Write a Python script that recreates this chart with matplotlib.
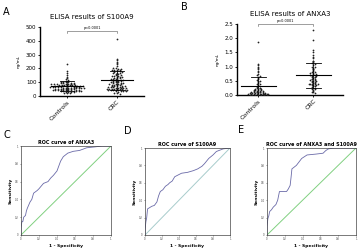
import numpy as np
import matplotlib.pyplot as plt

# ELISA values
s100a9_controls = [235, 180, 170, 150, 140, 130, 125, 118, 112, 110, 105, 102, 100, 98, 96,
                   95, 93, 92, 90, 90, 88, 87, 85, 85, 84, 83, 82, 80, 80, 79, 78, 77, 76,
                   75, 75, 74, 73, 72, 71, 70, 70, 69, 68, 67, 66, 65, 65, 64, 63, 62, 61,
                   60, 60, 59, 58, 57, 56, 55, 55, 54, 53, 52, 51, 50, 50, 49, 48, 47, 46,
                   45, 45, 44, 43, 42, 41, 40, 40, 38, 37, 36, 35, 34, 33, 32, 30, 28, 26,
                   24, 22, 20]
s100a9_crc = [415, 270, 260, 250, 240, 230, 215, 205, 200, 198, 195, 192, 190, 188, 185,
              182, 180, 178, 175, 172, 170, 168, 165, 160, 158, 155, 150, 148, 145, 142,
              140, 138, 135, 132, 130, 128, 125, 122, 120, 118, 116, 115, 112, 110, 108,
              106, 105, 103, 100, 98, 96, 95, 93, 90, 88, 87, 85, 83, 82, 80, 78, 76, 75,
              73, 72, 70, 68, 67, 65, 63, 62, 60, 58, 57, 56, 55, 54, 53, 52, 51, 50, 49,
              48, 47, 46, 45, 44, 43, 42, 40, 38, 36, 35, 33, 30, 25, 20, 15]
anxa3_controls = [1.85, 1.1, 1.05, 1.0, 0.95, 0.9, 0.85, 0.8, 0.75, 0.7, 0.68, 0.65, 0.6,
                  0.55, 0.52, 0.5, 0.48, 0.45, 0.42, 0.4, 0.38, 0.35, 0.33, 0.3, 0.28, 0.26,
                  0.25, 0.24, 0.22, 0.2, 0.2, 0.19, 0.18, 0.17, 0.16, 0.15, 0.15, 0.14, 0.13,
                  0.12, 0.12, 0.11, 0.1, 0.1, 0.09, 0.09, 0.08, 0.08, 0.07, 0.07, 0.06, 0.06,
                  0.05, 0.05, 0.05, 0.04, 0.04, 0.03, 0.03, 0.03, 0.02, 0.02, 0.02, 0.01,
                  0.01, 0.01, 0.0, 0.0, 0.0, 0.0]
anxa3_crc = [2.28, 1.95, 1.6, 1.5, 1.4, 1.35, 1.3, 1.2, 1.18, 1.15, 1.12, 1.1, 1.05, 1.0,
             0.98, 0.95, 0.92, 0.9, 0.88, 0.85, 0.82, 0.8, 0.78, 0.76, 0.75, 0.74, 0.72, 0.7,
             0.7, 0.68, 0.66, 0.65, 0.64, 0.62, 0.6, 0.58, 0.57, 0.55, 0.54, 0.52, 0.5, 0.5,
             0.48, 0.47, 0.45, 0.44, 0.42, 0.4, 0.4, 0.39, 0.38, 0.37, 0.36, 0.35, 0.34,
             0.32, 0.3, 0.28, 0.26, 0.25, 0.22, 0.2, 0.18, 0.15, 0.12, 0.1, 0.08]
groups = ['Controls', 'CRC']

# ROC curves (1 - specificity, sensitivity)
roc_anxa3_x = [0, 0, 0.01, 0.02, 0.03, 0.05, 0.06, 0.07, 0.1, 0.12, 0.14, 0.18, 0.2, 0.25,
               0.3, 0.33, 0.36, 0.4, 0.44, 0.47, 0.52, 0.58, 0.65, 0.73, 0.82, 0.9, 1.0]
roc_anxa3_y = [0, 0.08, 0.15, 0.15, 0.2, 0.22, 0.27, 0.3, 0.37, 0.4, 0.47, 0.5, 0.52, 0.58,
               0.6, 0.64, 0.67, 0.72, 0.83, 0.88, 0.92, 0.94, 0.95, 0.98, 0.99, 1.0, 1.0]
roc_s100a9_x = [0, 0, 0.01, 0.02, 0.03, 0.08, 0.11, 0.14, 0.16, 0.18, 0.21, 0.24, 0.27, 0.29,
                0.32, 0.35, 0.43, 0.5, 0.57, 0.62, 0.67, 0.7, 0.75, 0.8, 0.84, 0.92, 1.0]
roc_s100a9_y = [0, 0.05, 0.15, 0.2, 0.3, 0.33, 0.34, 0.38, 0.45, 0.5, 0.52, 0.56, 0.58, 0.6,
                0.62, 0.67, 0.71, 0.72, 0.74, 0.76, 0.79, 0.82, 0.88, 0.92, 0.96, 0.99, 1.0]
roc_comb_x = [0, 0, 0.01, 0.02, 0.03, 0.05, 0.07, 0.1, 0.12, 0.13, 0.14, 0.22, 0.24, 0.26,
              0.27, 0.28, 0.33, 0.36, 0.39, 0.45, 0.55, 0.63, 0.66, 0.69, 0.75, 1.0]
roc_comb_y = [0, 0.1, 0.19, 0.22, 0.27, 0.29, 0.32, 0.35, 0.4, 0.45, 0.5, 0.5, 0.53, 0.57,
              0.66, 0.76, 0.8, 0.84, 0.88, 0.92, 0.93, 0.94, 0.97, 0.99, 1.0, 1.0]

W, H = 359, 250


def px_axes(fig, x0, y0, x1, y1):
    # pixel box (top-left origin) -> figure axes
    return fig.add_axes([x0 / W, 1 - y1 / H, (x1 - x0) / W, (y1 - y0) / H])


def swarm_x(values, center, binw, dx):
    vals = np.asarray(values, dtype=float)
    xs = np.zeros_like(vals)
    bins = np.round(vals / binw)
    for b in np.unique(bins):
        idx = np.where(bins == b)[0]
        n = len(idx)
        xs[idx] = center + (np.arange(n) - (n - 1) / 2) * dx
    return xs


def dot_panel(ax, data, binw, ymax, yticks, title, pad_y):
    for i, vals in enumerate(data):
        ax.scatter(swarm_x(vals, i, binw, 0.052), vals, s=1.6, color='#222222',
                   linewidths=0, zorder=3)
        m, sd = np.mean(vals), np.std(vals)
        ax.plot([i - 0.32, i + 0.32], [m, m], color='black', lw=0.8, zorder=4)
        for v in (m - sd, m + sd):
            ax.plot([i - 0.14, i + 0.14], [v, v], color='black', lw=0.6, zorder=4)
        ax.plot([i, i], [m - sd, m + sd], color='black', lw=0.5, zorder=4)
    ax.plot([0, 0, 1, 1], [pad_y - ymax * 0.03, pad_y, pad_y, pad_y - ymax * 0.03],
            color='#555555', lw=0.4)
    ax.text(0.5, pad_y + ymax * 0.01, 'p<0.0001', fontsize=2.5, ha='center', va='bottom')
    ax.set_ylim(0, ymax)
    ax.set_yticks(yticks)
    ax.set_xticks([0, 1])
    ax.set_xticklabels(groups, rotation=45, ha='right', rotation_mode='anchor', fontsize=4.5)
    ax.tick_params(axis='y', labelsize=4, length=1.5, width=0.6, pad=1)
    ax.tick_params(axis='x', length=1.5, width=0.6, pad=1)
    for s in ('top', 'right'):
        ax.spines[s].set_visible(False)
    for s in ('left', 'bottom'):
        ax.spines[s].set_linewidth(1.0)
    ax.set_ylabel('ng/mL', fontsize=3, labelpad=4)
    ax.set_title(title, fontsize=5, pad=6)


def roc_panel(ax, fx, ty, diag_color, title):
    ax.plot([0, 1], [0, 1], color=diag_color, lw=0.7)
    ax.plot(fx, ty, color='#6a6aa8', lw=0.6)
    ax.set_xlim(0, 1)
    ax.set_ylim(0, 1)
    ticks = np.linspace(0, 1, 6)
    ax.set_xticks(ticks)
    ax.set_yticks(ticks)
    ax.set_xticklabels(['0', '0.2', '0.4', '0.6', '0.8', '1'])
    ax.set_yticklabels(['0', '0.2', '0.4', '0.6', '0.8', '1'])
    ax.tick_params(labelsize=1.8, length=1, width=0.4, pad=0.8, colors='#444444')
    for s in ax.spines.values():
        s.set_linewidth(0.5)
        s.set_color('#444444')
    ax.set_xlabel('1 - Specificity', fontsize=3.2, labelpad=1.5, fontweight='bold')
    ax.set_ylabel('Sensitivity', fontsize=3.2, labelpad=1.5, fontweight='bold')
    ax.set_title(title, fontsize=3.5, pad=1.5, fontweight='bold')


fig = plt.figure(figsize=(W / 100, H / 100), dpi=100)
fig.patch.set_facecolor('white')

axA = px_axes(fig, 40, 27, 144, 96)
dot_panel(axA, [s100a9_controls, s100a9_crc], 10, 500, range(0, 501, 100),
          'ELISA results of S100A9', 470)
axA.set_xlim(-0.54, 1.54)

axB = px_axes(fig, 237, 24, 343, 95)
dot_panel(axB, [anxa3_controls, anxa3_crc], 0.03, 2.5, np.arange(0, 2.51, 0.5),
          'ELISA results of ANXA3', 2.5)
axB.set_yticklabels(['0.0', '0.5', '1.0', '1.5', '2.0', '2.5'])
axB.set_xlim(-0.385, 1.538)

axC = px_axes(fig, 21, 146, 111, 235)
roc_panel(axC, roc_anxa3_x, roc_anxa3_y, '#80d080', 'ROC curve of ANXA3')
axD = px_axes(fig, 145, 148, 230, 235)
roc_panel(axD, roc_s100a9_x, roc_s100a9_y, '#a8cccc', 'ROC curve of S100A9')
axE = px_axes(fig, 267, 148, 356, 235)
roc_panel(axE, roc_comb_x, roc_comb_y, '#80d080', 'ROC curve of ANXA3 and S100A9')

for letter, x, y in [('A', 3, 12), ('B', 181, 7), ('C', 3, 135), ('D', 124, 131), ('E', 238, 130)]:
    fig.text(x / W, 1 - y / H, letter, fontsize=7, va='center', ha='left')

fig.savefig('out.png', dpi=100)
